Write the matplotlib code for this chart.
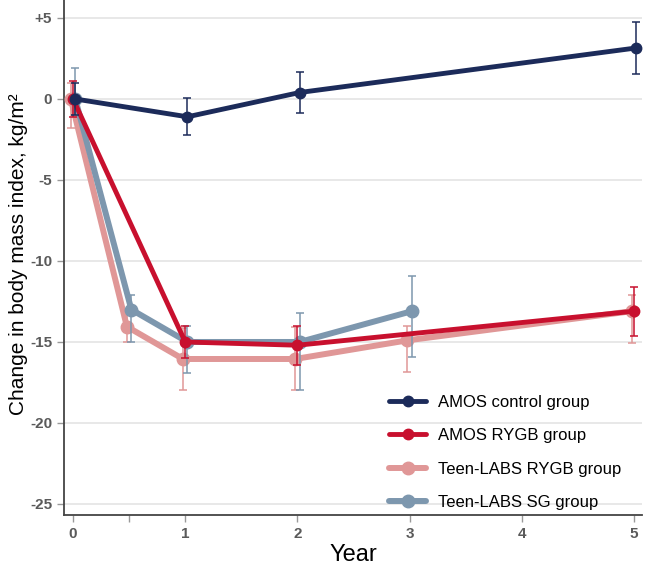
import matplotlib.pyplot as plt
import numpy as np

plt.rcParams['font.family'] = ['Liberation Sans', 'DejaVu Sans']

# AMOS control group
ctrl_years = [0, 1, 2, 5]
ctrl_bmi = [0.0, -1.1, 0.4, 3.15]
ctrl_err = [1.0, 1.15, 1.25, 1.6]

# AMOS RYGB group
rygb_years = [0, 1, 2, 5]
rygb_bmi = [0.0, -15.0, -15.2, -13.1]
rygb_err = [1.1, 1.0, 1.2, 1.5]

# Teen-LABS RYGB group
tl_rygb_years = [0, 0.5, 1, 2, 3, 5]
tl_rygb_bmi = [0.0, -14.05, -16.05, -16.05, -14.9, -13.1]
tl_rygb_lo = [1.8, 0.95, 1.9, 1.9, 1.95, 1.95]
tl_rygb_hi = [1.0, 0.95, 1.9, 1.95, 0.9, 1.0]

# Teen-LABS SG group
tl_sg_years = [0, 0.5, 1, 2, 3]
tl_sg_bmi = [0.0, -13.0, -15.0, -15.0, -13.1]
tl_sg_lo = [1.0, 2.0, 1.9, 2.95, 2.8]
tl_sg_hi = [1.9, 0.9, 1.0, 1.8, 2.2]

legend_labels = ["AMOS control group", "AMOS RYGB group",
                 "Teen-LABS RYGB group", "Teen-LABS SG group"]
xticks = [0, 0.5, 1, 2, 3, 4, 5]
xticklabels = ["0", "", "1", "2", "3", "4", "5"]
yticks = [5, 0, -5, -10, -15, -20, -25]
yticklabels = ["+5", "0", "-5", "-10", "-15", "-20", "-25"]

c_ctrl = "#1c2b5a"
c_rygb = "#c8102e"
c_tl_rygb = "#e09797"
c_tl_sg = "#7d97ae"

fig = plt.figure(figsize=(6.47, 5.70), dpi=100)
ax = fig.add_axes([0.099, 0.0965, 0.893, 0.9035])

ax.set_xlim(-0.08, 5.07)
ax.set_ylim(-25.68, 6.11)

for y in yticks:
    ax.axhline(y, color="#e6e6e6", lw=1.3, zorder=0)

def draw(xs, ys, lo, hi, color, lw, ms, off, label, z):
    xs = np.array(xs) + off
    ax.errorbar(xs, ys, yerr=[lo, hi], fmt="none", ecolor=color,
                elinewidth=1.1, capsize=3, capthick=1.1, zorder=z)
    ax.plot(xs, ys, color=color, lw=lw, marker="o", ms=ms,
            solid_capstyle="round", label=label, zorder=z + 0.5)

draw(tl_rygb_years, tl_rygb_bmi, tl_rygb_lo, tl_rygb_hi, c_tl_rygb, 4.3, 9, -0.02, legend_labels[2], 3)
draw(tl_sg_years, tl_sg_bmi, tl_sg_lo, tl_sg_hi, c_tl_sg, 4.3, 9, 0.02, legend_labels[3], 4)
draw(rygb_years, rygb_bmi, rygb_err, rygb_err, c_rygb, 3.5, 7.5, 0.0, legend_labels[1], 5)
draw(ctrl_years, ctrl_bmi, ctrl_err, ctrl_err, c_ctrl, 3.5, 7.5, 0.02, legend_labels[0], 6)

ax.set_xticks(xticks)
ax.set_xticklabels(xticklabels)
ax.set_yticks(yticks)
ax.set_yticklabels(yticklabels)
ax.tick_params(axis="both", colors="#999999", length=5, width=1,
               labelsize=11, labelcolor="#5a5a5a")
for lab in ax.get_xticklabels() + ax.get_yticklabels():
    lab.set_fontweight("bold")

for s in ["top", "right"]:
    ax.spines[s].set_visible(False)
for s in ["left", "bottom"]:
    ax.spines[s].set_color("#444444")
    ax.spines[s].set_linewidth(1.3)

ax.set_ylabel("Change in body mass index, kg/m²", fontsize=15)
ax.yaxis.set_label_coords(-0.062, 0.507)
ax.set_xlabel("Year", fontsize=17, labelpad=2)

handles, labels = ax.get_legend_handles_labels()
order = [labels.index(l) for l in legend_labels]
ax.legend([handles[i] for i in order], [labels[i] for i in order],
          loc="lower right", bbox_to_anchor=(0.99, -0.02), frameon=False,
          fontsize=12, handlelength=2.2, labelspacing=1.11,
          handletextpad=0.7)

fig.savefig("out.png", dpi=100)
